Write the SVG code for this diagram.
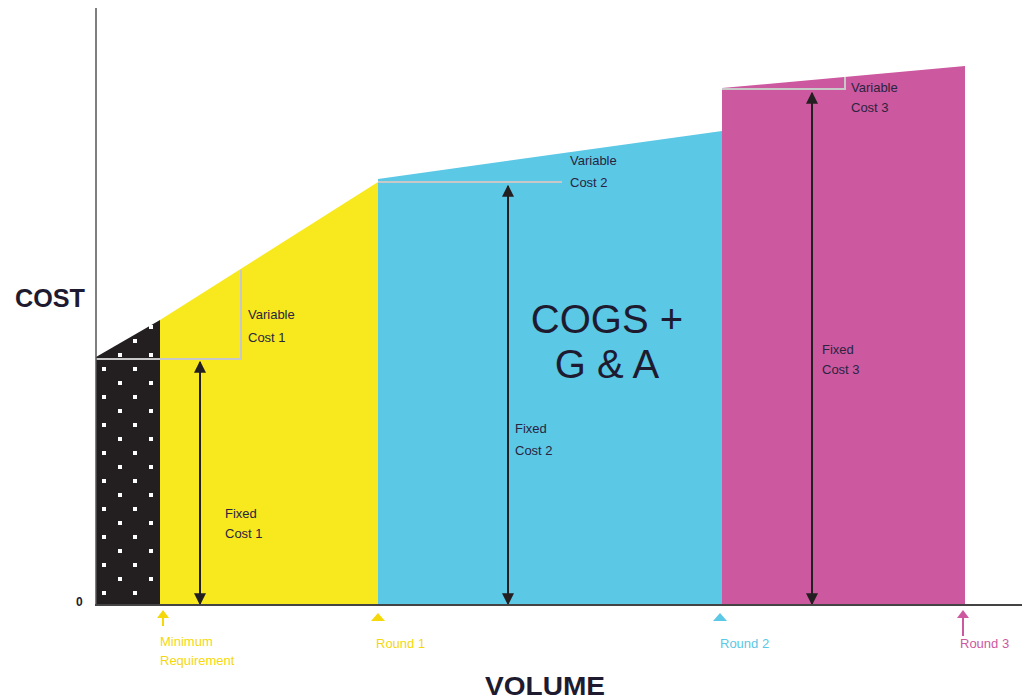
<svg xmlns="http://www.w3.org/2000/svg" width="1022" height="699" viewBox="0 0 1022 699">
<defs>
<style>
.lbl{font-family:"Liberation Sans",Arial,sans-serif;font-size:13px;fill:#2a2440;}
.big{font-family:"Liberation Sans",Arial,sans-serif;font-size:40px;fill:#1e1b30;}
.axt{font-family:"Liberation Sans",Arial,sans-serif;font-weight:bold;fill:#1e1b30;}
.grey{stroke:#c8c8c8;stroke-width:2;fill:none;}
.arr{stroke:#231f20;stroke-width:2;fill:none;}
.tick{font-family:"Liberation Sans",Arial,sans-serif;font-size:13px;}
</style>
<marker id="ah" viewBox="0 0 10 10" refX="9" refY="5" markerWidth="6" markerHeight="6" orient="auto-start-reverse">
<path d="M0,0 L10,5 L0,10 z" fill="#231f20"/>
</marker>
<pattern id="dots" x="96" y="0" width="31" height="28" patternUnits="userSpaceOnUse">
<rect width="31" height="28" fill="#231f20"/>
<rect x="6" y="3" width="4" height="4" fill="#ffffff"/>
<rect x="22" y="17" width="4" height="4" fill="#ffffff"/>
</pattern>
</defs>
<rect width="1022" height="699" fill="#ffffff"/>
<g id="region-min">
<polygon points="96,357 160,320 160,605 96,605" fill="url(#dots)"/>
</g>
<g id="region-round1">
<polygon points="160,320 378,182 378,605 160,605" fill="#f7e91e"/>
</g>
<g id="region-round2">
<polygon points="378,179 722,131 722,605 378,605" fill="#5bc8e5"/>
</g>
<g id="region-round3">
<polygon points="722,88 965,66 965,605 722,605" fill="#cc589f"/>
</g>
<g id="connectors">
<polyline class="grey" points="96,359 241,359 241,270"/>
<polyline class="grey" points="378,182 562,182"/>
<polyline class="grey" points="722,89 845,89 845,77"/>
<line class="arr" x1="200" y1="362" x2="200" y2="604" marker-start="url(#ah)" marker-end="url(#ah)"/>
<line class="arr" x1="508" y1="186" x2="508" y2="604" marker-start="url(#ah)" marker-end="url(#ah)"/>
<line class="arr" x1="812" y1="93" x2="812" y2="604" marker-start="url(#ah)" marker-end="url(#ah)"/>
<line x1="96" y1="8" x2="96" y2="606" stroke="#555" stroke-width="1.5"/>
<line x1="95" y1="605" x2="1022" y2="605" stroke="#444" stroke-width="2"/>
<g fill="#f5d80a" stroke="#f5d80a">
<line x1="163" y1="626" x2="163" y2="614" stroke-width="2"/>
<path d="M157,618 L163,610 L169,618 z" stroke="none"/>
<path d="M371,621 L378,613 L385,621 z" stroke="none"/>
</g>
<path d="M713,621 L720,613 L727,621 z" fill="#5bc8e5"/>
<g fill="#cc589f" stroke="#cc589f">
<line x1="963" y1="636" x2="963" y2="614" stroke-width="2"/>
<path d="M957,618 L963,610 L969,618 z" stroke="none"/>
</g>
</g>
<g id="labels">
<text class="lbl" x="248" y="319">Variable</text>
<text class="lbl" x="248" y="342">Cost 1</text>
<text class="lbl" x="570" y="165">Variable</text>
<text class="lbl" x="570" y="187">Cost 2</text>
<text class="lbl" x="851" y="92">Variable</text>
<text class="lbl" x="851" y="112">Cost 3</text>
<text class="lbl" x="225" y="518">Fixed</text>
<text class="lbl" x="225" y="538">Cost 1</text>
<text class="lbl" x="515" y="433">Fixed</text>
<text class="lbl" x="515" y="455">Cost 2</text>
<text class="lbl" x="822" y="354">Fixed</text>
<text class="lbl" x="822" y="374">Cost 3</text>
<text class="big" x="607" y="333" text-anchor="middle">COGS +</text>
<text class="big" x="607" y="378" text-anchor="middle">G &amp; A</text>
<text class="axt" x="15" y="307" font-size="26" textLength="70" lengthAdjust="spacingAndGlyphs">COST</text>
<text class="axt" x="76" y="606" font-size="12">0</text>
<text class="axt" x="545" y="695" font-size="26" text-anchor="middle" textLength="120" lengthAdjust="spacingAndGlyphs">VOLUME</text>
<text class="tick" x="160" y="646" fill="#f5d80a">Minimum</text>
<text class="tick" x="160" y="665" fill="#f5d80a">Requirement</text>
<text class="tick" x="376" y="648" fill="#f5d80a">Round 1</text>
<text class="tick" x="720" y="648" fill="#5bc8e5">Round 2</text>
<text class="tick" x="960" y="648" fill="#cc589f">Round 3</text>
</g>
</svg>
